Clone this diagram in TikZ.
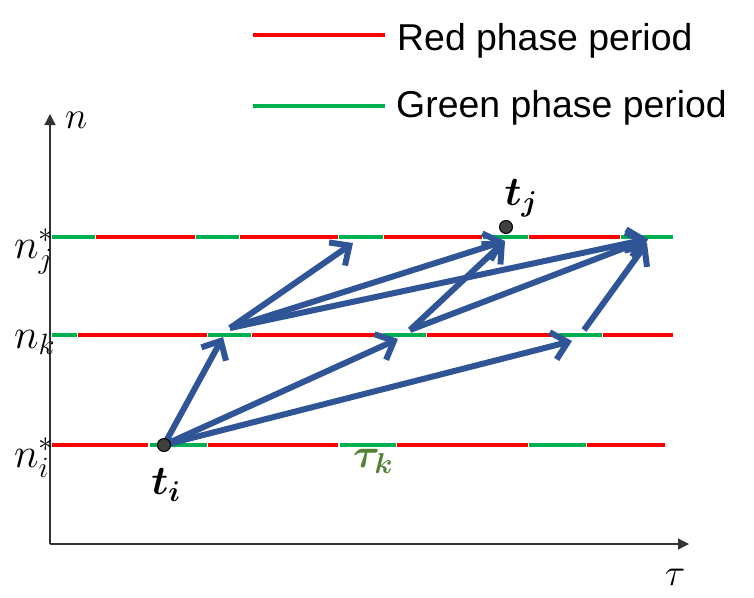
\RequirePackage{fix-cm}
\documentclass[tikz,border=0pt]{standalone}
\usepackage{fontspec}
\usepackage{bm}
\newfontfamily\legendfont{Liberation Sans}
\usetikzlibrary{arrows.meta}
\definecolor{tlR}{HTML}{FF0000}
\definecolor{tlG}{HTML}{00B050}
\definecolor{arrblue}{HTML}{2F5597}
\definecolor{tauG}{HTML}{548235}
\definecolor{dotgray}{HTML}{404040}
\begin{document}
\begin{tikzpicture}[x=1pt,y=-1pt,
  tl/.style={line width=4.5pt},
  flow/.style={arrblue, line width=6pt, -{Straight Barb[length=15pt,width=28pt]}},
  axis/.style={line width=1.3pt, black!80, -{Triangle[length=11pt,width=11pt]}},
  dot/.style={circle, fill=dotgray, draw=black, line width=1pt, minimum size=13pt, inner sep=0pt},
  lbl/.style={inner sep=0pt, anchor=base west, font=\fontsize{42}{46}\selectfont},
  ptl/.style={inner sep=0pt, font=\fontsize{38}{42}\selectfont},
  btl/.style={inner sep=0pt, font=\fontsize{41}{45}\selectfont},
  leg/.style={inner sep=0pt, anchor=base west, font=\legendfont\fontsize{37.4}{42}\selectfont}
]
\useasboundingbox (0,0) rectangle (754,597);

% legend
\coordinate (lr1) at (253,35);
\coordinate (lr2) at (385,35);
\coordinate (lg1) at (253,106);
\coordinate (lg2) at (385,106);
\draw[tl,tlR] (lr1) -- (lr2);
\draw[tl,tlG] (lg1) -- (lg2);
\node[leg] (legR) at (397,50) {Red phase period};
\node[leg] (legG) at (396,117) {Green phase period};

% axes
\coordinate (O) at (50,544);
\coordinate (ytop) at (50,114);
\coordinate (xend) at (689,544);
\draw[axis] (O) -- (ytop);
\draw[axis] (O) -- (xend);

% time lines
\foreach \c/\a/\b in {tlG/52/95, tlR/96/195, tlG/196/239, tlR/240/338, tlG/339/383,
                      tlR/384/482, tlG/483/528, tlR/529/620, tlG/621/673}
  \draw[tl,\c] (\a,237) -- (\b,237);
\foreach \c/\a/\b in {tlG/52/77, tlR/78/207, tlG/208/251, tlR/252/382, tlG/383/426,
                      tlR/427/558, tlG/559/602, tlR/603/673}
  \draw[tl,\c] (\a,335) -- (\b,335);
\foreach \c/\a/\b in {tlR/52/148, tlG/150/207, tlR/208/338, tlG/340/396,
                      tlR/397/528, tlG/529/586, tlR/587/665}
  \draw[tl,\c] (\a,445) -- (\b,445);

% arrow end points
\coordinate (ti) at (164,445);
\coordinate (k1) at (223,337);
\coordinate (k2) at (398,339);
\coordinate (k3) at (572,341);
\coordinate (A) at (230,328);
\coordinate (B) at (410,330);
\coordinate (C) at (584,330);
\coordinate (j1) at (353,243);
\coordinate (j2) at (505,241);
\coordinate (j3) at (648,239);
\coordinate (j3b) at (647,243);

\draw[flow] (ti) -- (k1);
\draw[flow] (ti) -- (k2);
\draw[flow] (ti) -- (k3);
\draw[flow] (A) -- (j1);
\draw[flow] (A) -- (j2);
\draw[flow] (A) -- (j3);
\draw[flow] (B) -- (j2);
\draw[flow] (B) -- (j3);
\draw[flow] (C) -- (j3b);

% dots
\node[dot] (tidot) at (ti) {};
\node[dot] (tjdot) at (506,227) {};

% labels
\node[lbl] (nj) at (14,258) {$n_j^*$};
\node[lbl] (nk) at (14,348) {$n_k$};
\node[lbl] (ni) at (14,467) {$n_i^*$};
\node[ptl, anchor=base west] (naxis) at (65,128) {$n$};
\node[ptl] (tau) at (675,577) {$\tau$};
\node[btl] (tilbl) at (166,485) {$\bm{t_i}$};
\node[btl] (tjlbl) at (521,198) {$\bm{t_j}$};
\node[btl, text=tauG] (tauk) at (373,461) {$\bm{\tau_k}$};
\end{tikzpicture}
\end{document}
